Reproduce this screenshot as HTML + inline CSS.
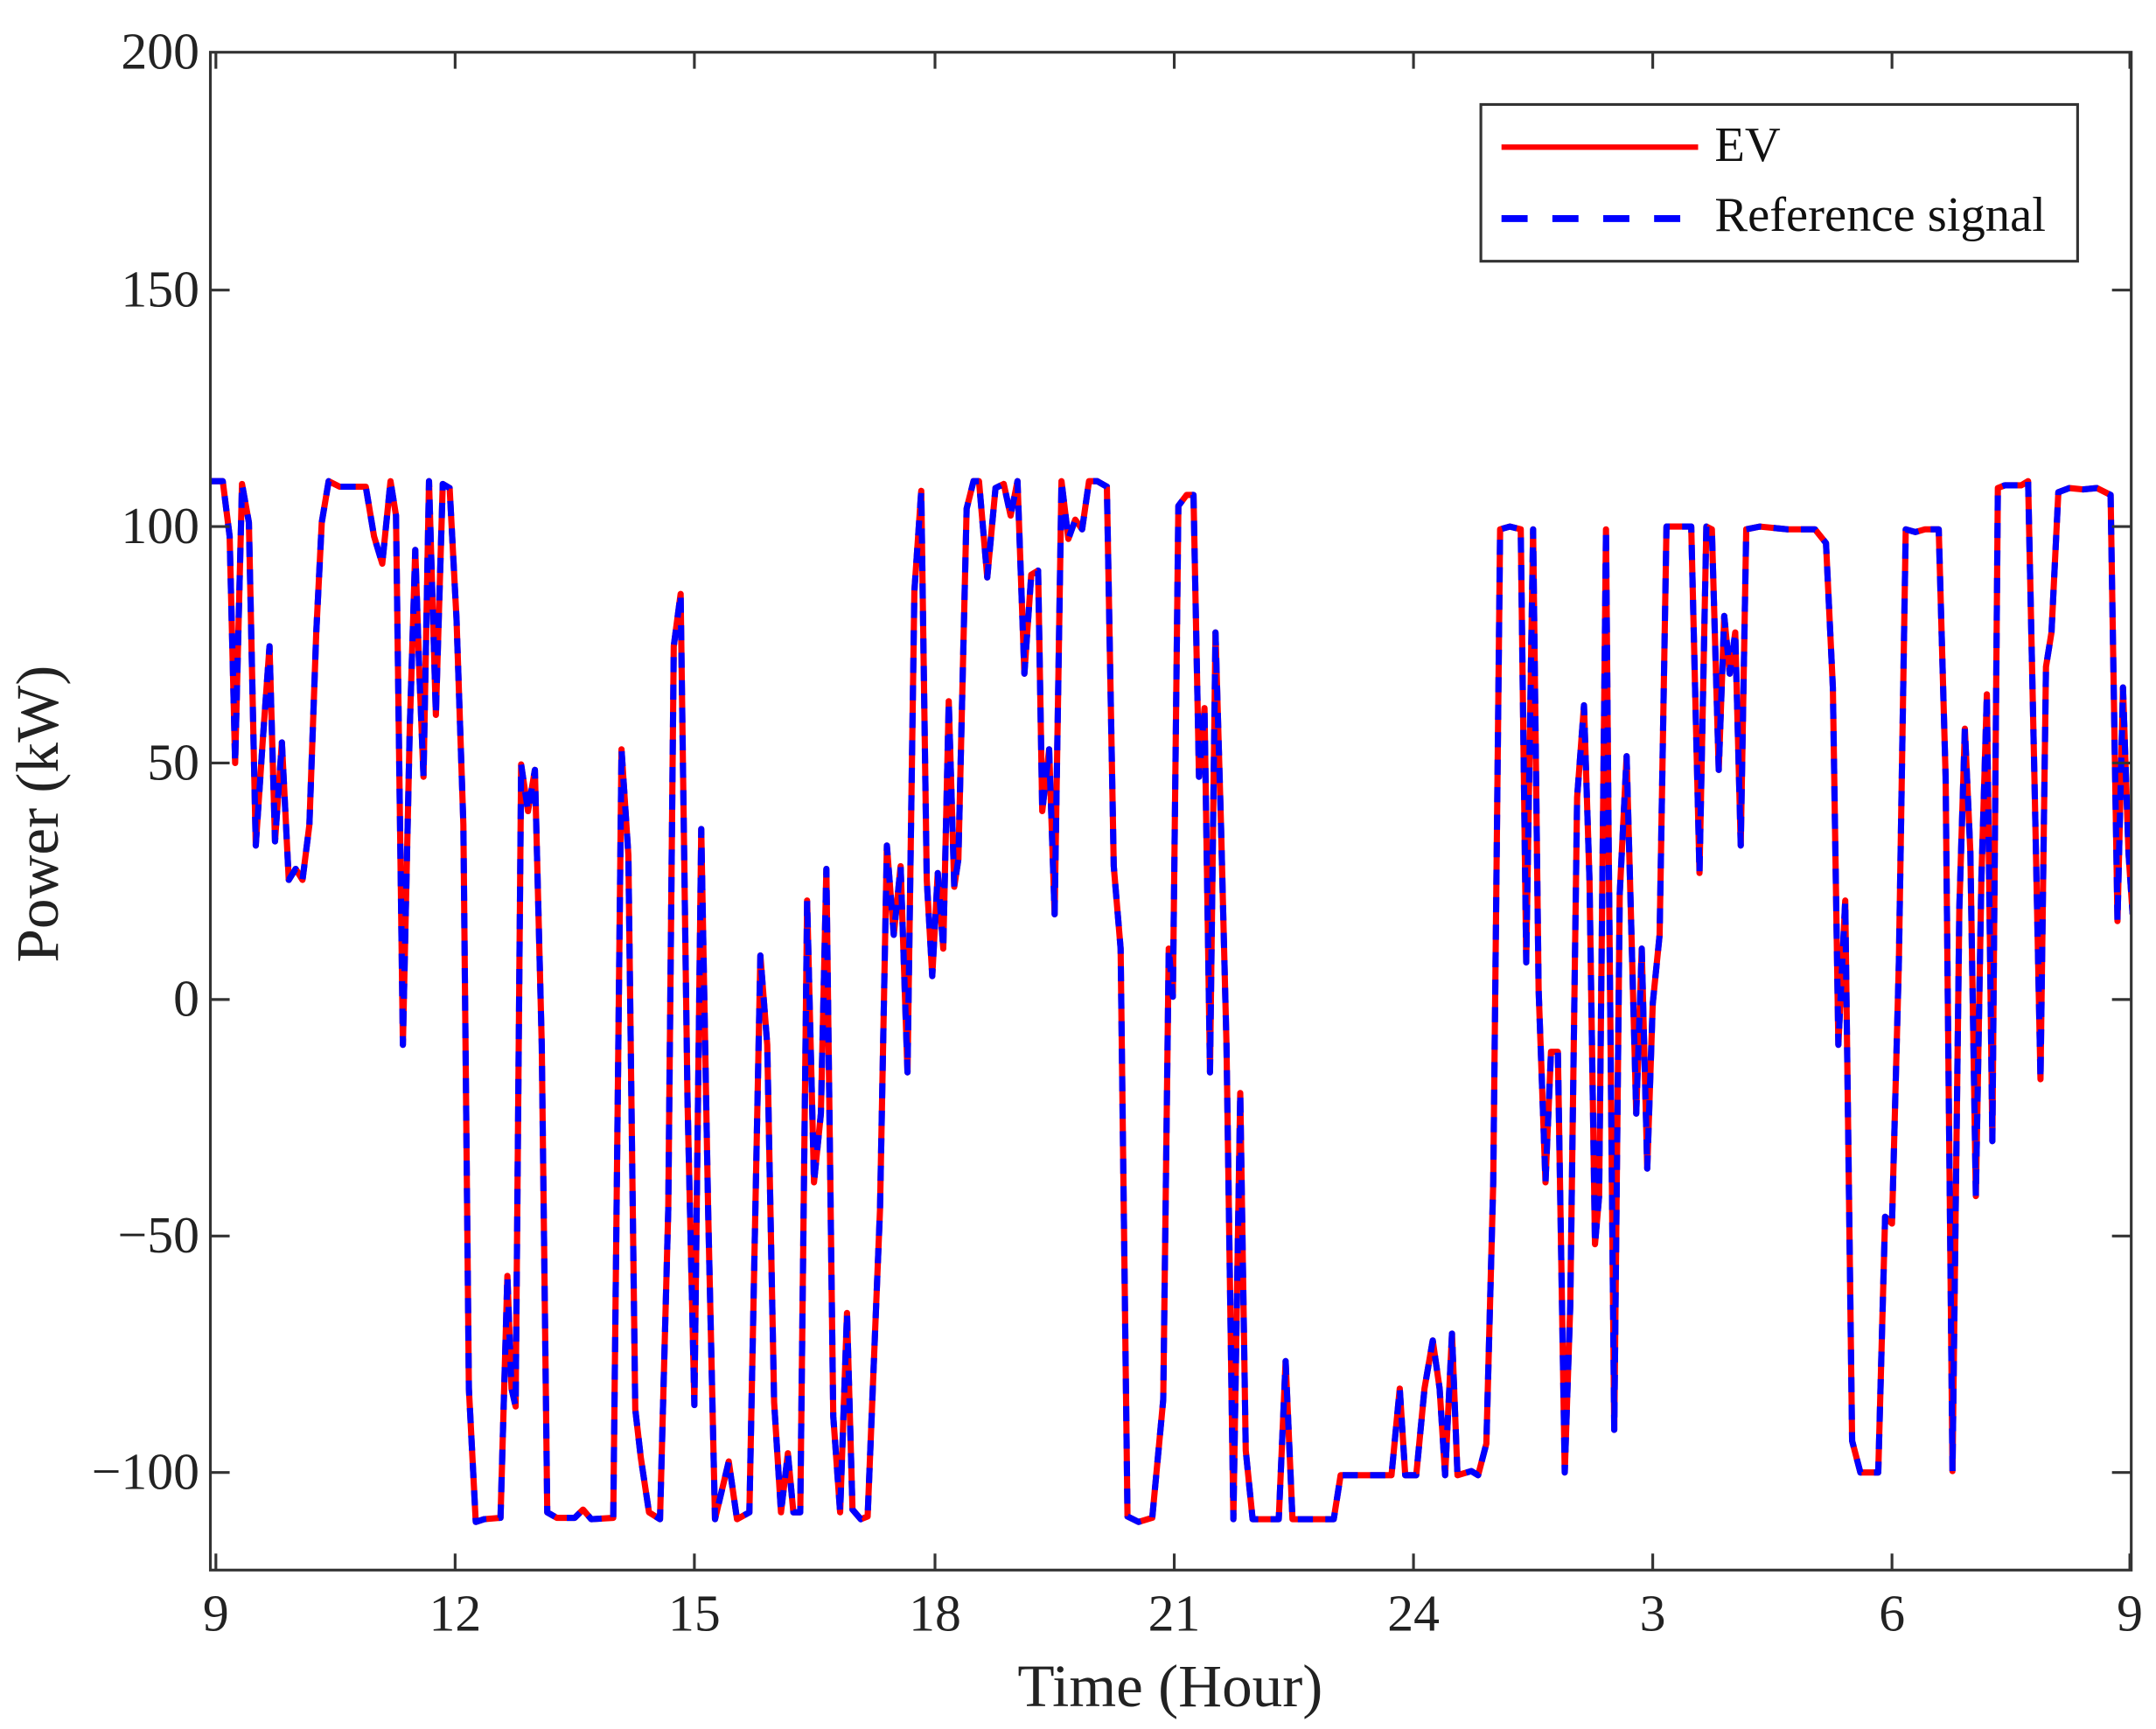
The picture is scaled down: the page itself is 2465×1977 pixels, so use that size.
<!DOCTYPE html>
<html><head><meta charset="utf-8"><style>html,body{margin:0;padding:0;background:#fff}svg{display:block}</style></head>
<body>
<svg width="2465" height="1977" viewBox="0 0 1568 1257.6" xmlns="http://www.w3.org/2000/svg" xmlns:xlink="http://www.w3.org/1999/xlink" font-family="'Liberation Serif', serif" fill="#222">
<rect width="1568" height="1258" fill="#fff"/>
<defs><clipPath id="c"><rect x="153" y="38" width="1397" height="1104"/></clipPath>
<polyline id="d" points="153,350 162,350 167,390 171,555 176,352 181,380 186,615 191,540 196,470 200,612 205,540 210,640 215,632 220,640 225,600 230,460 234,380 239,350 247,354 256,354 266,354 272,390 278,410 284,350 288,375 293,760 298,530 302,400 305,490 308,565 312,350 317,520 322,352 327,355 332,450 337,600 341,1010 346,1107 352,1105 364,1104 369,928 372,1010 375,1023 379,556 384,590 389,560 394,760 398,1100 405,1104 418,1104 424,1098 430,1105 446,1104 452,545 457,622 462,1025 466,1060 472,1100 480,1105 486,880 490,470 495,432 500,800 505,1022 510,603 515,880 520,1105 530,1063 536,1105 545,1100 553,695 558,760 563,1020 568,1100 573,1057 577,1100 582,1100 587,655 592,860 597,810 601,632 606,1030 611,1100 616,955 620,1098 626,1105 631,1103 640,880 645,615 650,680 655,630 660,780 665,430 670,357 674,640 678,710 682,635 686,690 690,510 694,645 697,625 703,370 708,350 712,350 718,420 724,355 730,352 735,375 740,350 745,490 750,418 755,415 758,590 763,545 767,665 772,350 777,392 782,378 787,385 792,350 798,350 805,354 810,630 815,690 820,1103 828,1107 838,1104 846,1018 850,690 853,725 857,368 863,360 868,360 872,565 876,515 880,780 884,460 888,600 892,760 897,1105 902,795 906,1055 911,1105 920,1105 930,1105 935,990 940,1105 970,1105 975,1073 1012,1073 1018,1010 1022,1073 1030,1073 1036,1010 1042,975 1047,1010 1051,1073 1056,970 1060,1073 1070,1070 1075,1073 1081,1050 1086,860 1091,385 1098,383 1106,385 1110,700 1115,385 1119,720 1124,860 1128,765 1133,765 1138,1071 1142,950 1147,580 1152,513 1156,640 1160,905 1163,870 1168,385 1170,620 1174,1040 1178,650 1183,550 1186,660 1190,810 1194,690 1198,850 1202,730 1207,680 1212,383 1218,383 1230,383 1236,635 1241,383 1245,385 1250,560 1254,448 1258,490 1262,460 1266,615 1270,385 1280,383 1300,385 1320,385 1328,395 1333,500 1337,760 1342,655 1347,1048 1353,1071 1366,1071 1371,885 1376,890 1381,700 1386,385 1393,387 1400,385 1410,385 1415,565 1420,1070 1425,660 1429,530 1433,620 1437,870 1441,640 1445,505 1449,830 1453,355 1458,353 1470,353 1475,350 1480,585 1484,785 1488,485 1492,460 1497,358 1505,355 1515,356 1525,355 1535,360 1540,670 1544,500 1548,620 1551,665"/>
</defs>
<g clip-path="url(#c)" fill="none" stroke-linejoin="round">
<use href="#d" xlink:href="#d" stroke="#ff0000" stroke-width="4.5"/>
<use href="#d" xlink:href="#d" stroke="#0000ff" stroke-width="4.5" stroke-dasharray="11 9"/>
</g>
<g fill="none" stroke="#333" stroke-width="2">
<rect x="153" y="38" width="1397" height="1104"/>
<path d="M157,38v12M331,38v12M505,38v12M680,38v12M854,38v12M1028,38v12M1202,38v12M1376,38v12M1549,38v12
M157,1142v-12M331,1142v-12M505,1142v-12M680,1142v-12M854,1142v-12M1028,1142v-12M1202,1142v-12M1376,1142v-12M1549,1142v-12
M153,211h14M153,383h14M153,555h14M153,727h14M153,899h14M153,1071h14
M1550,211h-14M1550,383h-14M1550,555h-14M1550,727h-14M1550,899h-14M1550,1071h-14"/>
</g>
<g font-size="38" text-anchor="end">
<text x="145" y="50">200</text><text x="145" y="223">150</text><text x="145" y="395">100</text>
<text x="145" y="567">50</text><text x="145" y="739">0</text><text x="145" y="911">−50</text><text x="145" y="1083">−100</text>
</g>
<g font-size="38" text-anchor="middle">
<text x="157" y="1186">9</text><text x="331" y="1186">12</text><text x="505" y="1186">15</text><text x="680" y="1186">18</text>
<text x="854" y="1186">21</text><text x="1028" y="1186">24</text><text x="1202" y="1186">3</text><text x="1376" y="1186">6</text><text x="1549" y="1186">9</text>
</g>
<text x="851" y="1241" font-size="44" text-anchor="middle">Time (Hour)</text>
<text transform="translate(42,592) rotate(-90)" font-size="44" text-anchor="middle">Power (kW)</text>
<rect x="1077" y="76" width="434" height="114" fill="#fff" stroke="#333" stroke-width="2"/>
<line x1="1092" y1="107" x2="1235" y2="107" stroke="#ff0000" stroke-width="4"/>
<line x1="1092" y1="159" x2="1235" y2="159" stroke="#0000ff" stroke-width="5" stroke-dasharray="19 18"/>
<text x="1247" y="117" font-size="36" fill="#111">EV</text>
<text x="1247" y="168" font-size="36" fill="#111">Reference signal</text>
</svg>
</body></html>
